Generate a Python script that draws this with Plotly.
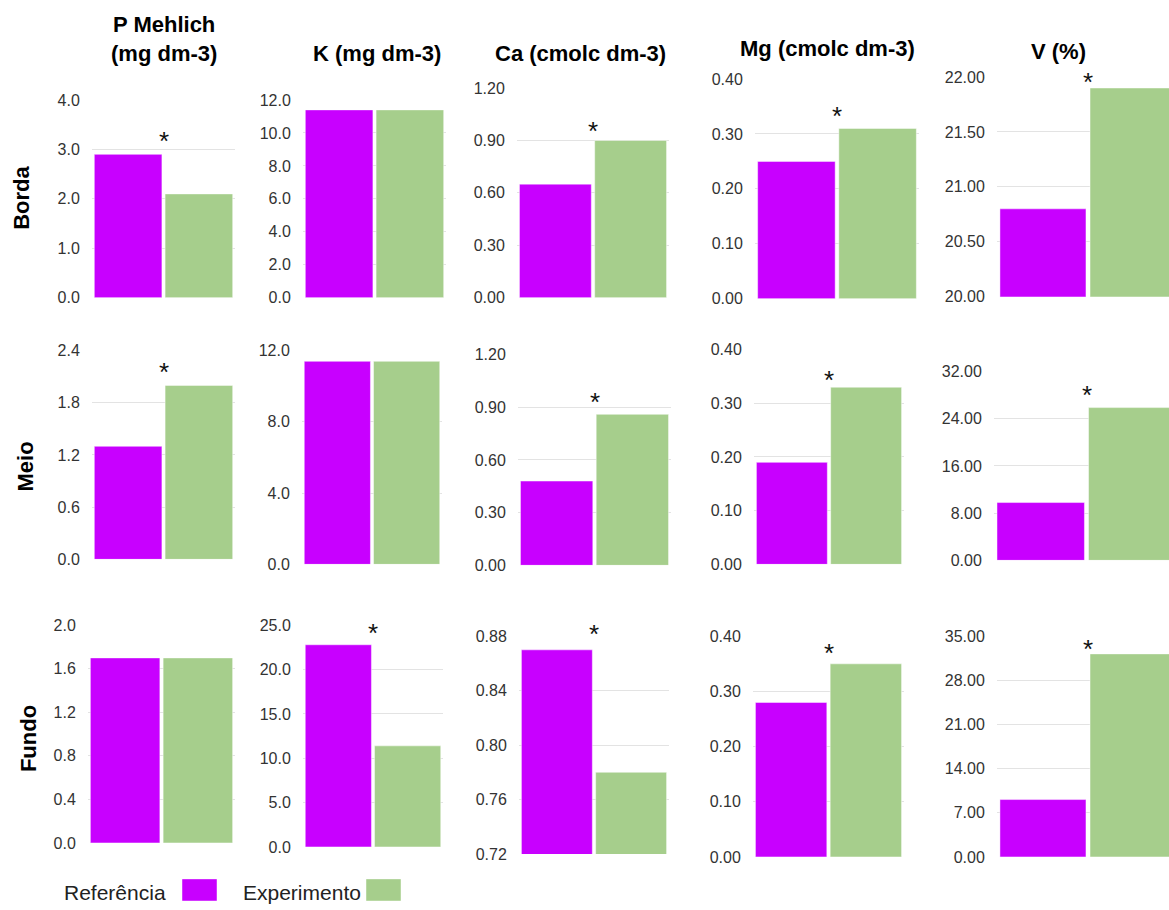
import plotly.graph_objects as go

LARGURA, ALTURA = 1169, 910

# Atributos (colunas) e posições na parcela (linhas)
colunas = ["P Mehlich<br>(mg dm-3)", "K (mg dm-3)", "Ca (cmolc dm-3)", "Mg (cmolc dm-3)", "V (%)"]
linhas = ["Borda", "Meio", "Fundo"]

# Médias por posição: [P, K, Ca, Mg, V]
referencia_borda = [2.9, 11.4, 0.65, 0.25, 20.8]
experimento_borda = [2.1, 11.4, 0.90, 0.31, 21.9]
referencia_meio = [1.3, 11.4, 0.48, 0.19, 9.8]
experimento_meio = [2.0, 11.4, 0.86, 0.33, 25.9]
referencia_fundo = [1.7, 22.8, 0.87, 0.28, 9.1]
experimento_fundo = [1.7, 11.4, 0.78, 0.35, 32.2]

# Diferença significativa (*)
signif_borda = [True, False, True, True, True]
signif_meio = [True, False, True, True, True]
signif_fundo = [False, True, True, True, True]

# Escalas do eixo y: (mínimo, máximo, passo, formato dos rótulos)
escala_borda = [(0, 4, 1, ".1f"), (0, 12, 2, ".1f"), (0, 1.2, 0.3, ".2f"), (0, 0.4, 0.1, ".2f"), (20, 22, 0.5, ".2f")]
escala_meio = [(0, 2.4, 0.6, ".1f"), (0, 12, 4, ".1f"), (0, 1.2, 0.3, ".2f"), (0, 0.4, 0.1, ".2f"), (0, 32, 8, ".2f")]
escala_fundo = [(0, 2, 0.4, ".1f"), (0, 25, 5, ".1f"), (0.72, 0.88, 0.04, ".2f"), (0, 0.4, 0.1, ".2f"), (0, 35, 7, ".2f")]

COR_REF = "#C800FF"
COR_EXP = "#A6CE8C"
FONTE = "Liberation Sans, Arial, sans-serif"


def fx(px):
    """Pixel horizontal -> fração do papel."""
    return px / LARGURA


def fy(py):
    """Pixel vertical (a partir do topo) -> fração do papel."""
    v = 1 - ((py - 7.87) / 0.9827) / ALTURA
    return min(max(v, 0.0), 1.0)


# Área de cada painel em pixels: (esquerda, direita, topo, base)
caixas = {
    "Borda": [(92, 235, 100, 298), (303, 446, 100, 298), (517, 669, 88, 298),
              (755, 919, 79, 299), (997, 1179, 77, 297)],
    "Meio": [(92, 235, 351, 560), (302, 442, 351, 565), (518, 671, 355, 566),
             (754, 904, 350, 565), (994, 1179, 372, 561)],
    "Fundo": [(88, 235, 626, 844), (303, 443, 626, 848), (519, 669, 637, 855),
              (753, 904, 637, 858), (997, 1179, 637, 858)],
}

# Deslocamento vertical (px) do asterisco acima da barra mais alta
desloc_asterisco = {
    "Borda": [-4, 0, -8, -5, -11],
    "Meio": [-4, 0, -5, -10, -4],
    "Fundo": [0, -5, -1, -6, -12],
}

dados = {
    "Borda": (referencia_borda, experimento_borda, signif_borda, escala_borda),
    "Meio": (referencia_meio, experimento_meio, signif_meio, escala_meio),
    "Fundo": (referencia_fundo, experimento_fundo, signif_fundo, escala_fundo),
}

fig = go.Figure()
layout = {}
anotacoes = []
n = 0
for linha in linhas:
    ref, exp, sig, esc = dados[linha]
    for j in range(len(colunas)):
        n += 1
        sufixo = "" if n == 1 else str(n)
        esq, dir_, topo, base = caixas[linha][j]
        # painel cortado na borda direita da página
        dir_vis = min(dir_, LARGURA)
        frac = (dir_vis - esq) / (dir_ - esq)
        lo, hi, passo, fmt = esc[j]
        nt = int(round((hi - lo) / passo))
        ticks = [round(lo + k * passo, 6) for k in range(nt + 1)]

        fig.add_trace(go.Bar(x=[linha], y=[ref[j]], name="Referência",
                             marker=dict(color=COR_REF, line=dict(color="rgba(255,255,255,0.45)", width=1)),
                             xaxis="x" + sufixo, yaxis="y" + sufixo, showlegend=False,
                             hoverinfo="y"))
        fig.add_trace(go.Bar(x=[linha], y=[exp[j]], name="Experimento",
                             marker=dict(color=COR_EXP, line=dict(color="rgba(255,255,255,0.45)", width=1)),
                             xaxis="x" + sufixo, yaxis="y" + sufixo, showlegend=False,
                             hoverinfo="y"))
        layout["xaxis" + sufixo] = dict(
            domain=[fx(esq), fx(dir_vis)], anchor="y" + sufixo,
            type="category", range=[-0.5, -0.5 + frac],
            showticklabels=False, showgrid=False, zeroline=False, showline=False, ticks="",
        )
        layout["yaxis" + sufixo] = dict(
            domain=[fy(base), fy(topo)], anchor="x" + sufixo,
            range=[lo, hi + (hi - lo) * 1e-6], tickvals=ticks, tickformat=fmt,
            showgrid=True, gridcolor="#E3E3E3", gridwidth=1, zeroline=False, showline=False,
            ticks="outside", ticklen=8, tickcolor="rgba(0,0,0,0)",
            tickfont=dict(family=FONTE, size=16, color="#333333"),
        )
        if sig[j]:
            anotacoes.append(dict(
                xref="x" + sufixo, yref="y" + sufixo, x=linha, y=max(ref[j], exp[j]),
                text="*", showarrow=False, xanchor="center", yanchor="bottom",
                yshift=desloc_asterisco[linha][j],
                font=dict(family=FONTE, size=26, color="#111111"),
            ))

# Títulos das colunas
titulos_pos = [(164, 39), (377, 53), (580, 53), (827, 48), (1058, 51)]
for titulo, (px, py) in zip(colunas, titulos_pos):
    anotacoes.append(dict(
        xref="paper", yref="paper", x=fx(px), y=fy(py),
        text="<b>" + titulo + "</b>", showarrow=False, xanchor="center", yanchor="middle",
        font=dict(family=FONTE, size=22, color="#000000"),
    ))

# Rótulos das linhas
linhas_pos = [(22, 198), (25, 467), (28, 740)]
for rotulo, (px, py) in zip(linhas, linhas_pos):
    anotacoes.append(dict(
        xref="paper", yref="paper", x=fx(px), y=fy(py),
        text="<b>" + rotulo + "</b>", showarrow=False, textangle=-90,
        xanchor="center", yanchor="middle",
        font=dict(family=FONTE, size=22, color="#000000"),
    ))

# Legenda: texto seguido do quadrado de cor
legenda = [("Referência", COR_REF, 62, 182, 217), ("Experimento", COR_EXP, 241, 366, 401)]
formas = []
for nome, cor, tx, q0, q1 in legenda:
    anotacoes.append(dict(
        xref="paper", yref="paper", x=fx(tx), y=fy(894),
        text=nome, showarrow=False, xanchor="left", yanchor="middle",
        font=dict(family=FONTE, size=21, color="#222222"),
    ))
    formas.append(dict(
        type="rect", xref="paper", yref="paper",
        x0=fx(q0), x1=fx(q1), y0=fy(912), y1=fy(880),
        fillcolor=cor, line=dict(color="rgba(255,255,255,0.45)", width=1),
    ))

fig.update_layout(
    width=LARGURA, height=ALTURA, autosize=False,
    margin=dict(l=0, r=0, t=0, b=0, pad=0),
    paper_bgcolor="white", plot_bgcolor="white",
    barmode="group", bargap=0.01, bargroupgap=0.045,
    showlegend=False, annotations=anotacoes, shapes=formas,
    font=dict(family=FONTE),
    **layout,
)

fig.write_html("out.html")
